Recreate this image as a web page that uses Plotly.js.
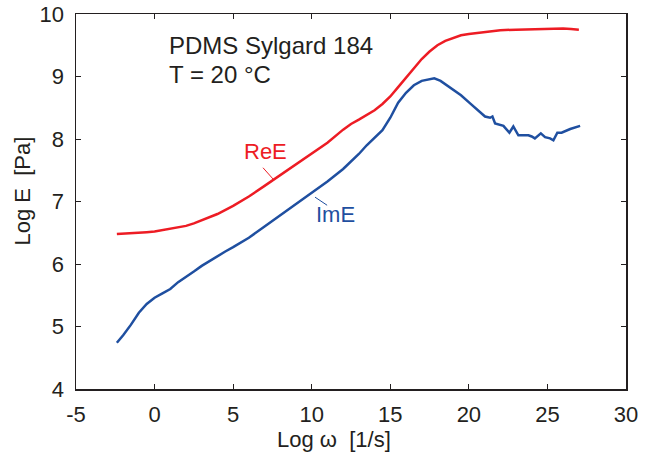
<!DOCTYPE html>
<html><head><meta charset="utf-8">
<script src="https://cdn.plot.ly/plotly-3.0.1.min.js"></script>
<style>html,body{margin:0;padding:0;background:#fff;}#chart{width:646px;height:456px;}</style>
</head><body><div id="chart"></div>
<script>
const reX = [-2.4,-1.5,-0.5,0,0.5,1,1.5,2,2.5,3,4,5,6,7,8,9,10,11,12,12.5,13,13.5,14,14.5,15,15.5,16,16.5,17,17.5,18,18.5,19,19.5,20,21,22,23,24,25,26,26.5,27];
const reY = [6.48,6.49,6.51,6.52,6.54,6.56,6.58,6.61,6.65,6.70,6.80,6.93,7.08,7.25,7.42,7.59,7.76,7.94,8.15,8.24,8.31,8.38,8.46,8.56,8.68,8.83,8.98,9.14,9.28,9.40,9.50,9.57,9.62,9.66,9.68,9.71,9.74,9.75,9.76,9.77,9.77,9.76,9.75];
const imX = [-2.4,-2.0,-1.5,-1.0,-0.5,0,0.5,1,1.5,2,2.5,3,3.5,4,4.5,5,6,7,8,9,10,10.5,11,12,12.6,13,13.5,14,14.5,15,15.5,16,16.5,17,17.5,17.8,18.2,18.6,19,19.5,20.08,20.5,21.03,21.35,21.5,21.67,22.2,22.58,22.83,23.15,23.79,24.0,24.2,24.58,24.85,25.17,25.38,25.63,25.9,26.45,27.08];
const imY = [4.74,4.86,5.03,5.22,5.36,5.46,5.53,5.60,5.71,5.79,5.88,5.97,6.05,6.13,6.20,6.27,6.42,6.60,6.78,6.96,7.14,7.24,7.32,7.52,7.66,7.76,7.90,8.02,8.14,8.34,8.58,8.74,8.86,8.93,8.96,8.97,8.93,8.86,8.78,8.70,8.57,8.48,8.36,8.34,8.36,8.25,8.21,8.10,8.20,8.06,8.06,8.04,8.01,8.09,8.03,8.01,7.98,8.10,8.10,8.16,8.21];
const xTicks = [-5,0,5,10,15,20,25,30];
const yTicks = [4,5,6,7,8,9,10];

const RED = '#ed1c24', BLUE = '#1f4fa0', INK = '#231f20';
const FONT = 'Liberation Sans, Arial, sans-serif';

const traces = [
  {x: reX, y: reY, mode: 'lines', line: {color: RED, width: 2.5}, hoverinfo: 'skip'},
  {x: imX, y: imY, mode: 'lines', line: {color: BLUE, width: 2.5}, hoverinfo: 'skip'}
];
const axisCommon = {
  showgrid: false, zeroline: false, showline: true, linecolor: INK, linewidth: 1.5,
  mirror: 'ticks', ticks: 'inside', ticklen: 5, tickwidth: 1, tickcolor: INK,
  tickfont: {family: FONT, size: 22, color: INK}
};
const layout = {
  width: 646, height: 456,
  margin: {l: 76, r: 20, t: 14, b: 67},
  paper_bgcolor: '#fff', plot_bgcolor: '#fff',
  showlegend: false,
  font: {family: FONT, color: INK},
  xaxis: Object.assign({}, axisCommon, {
    range: [-5, 30], tickvals: xTicks, ticktext: xTicks.map(String), ticklabelstandoff: 5
  }),
  yaxis: Object.assign({}, axisCommon, {
    range: [4, 10], tickvals: yTicks, ticktext: yTicks.map(String), ticklabelstandoff: 6
  }),
  shapes: [
    {type: 'line', xref: 'x', yref: 'y', x0: 6.90, y0: 7.54, x1: 7.54, y1: 7.36, line: {color: RED, width: 1}},
    {type: 'line', xref: 'x', yref: 'y', x0: 10.21, y0: 7.07, x1: 10.98, y1: 6.94, line: {color: BLUE, width: 1}}
  ],
  annotations: [
    {x: 0.8, y: 9.50, xref: 'x', yref: 'y', xanchor: 'left', yanchor: 'middle',
     text: 'PDMS Sylgard 184', showarrow: false, font: {family: FONT, size: 24, color: INK}},
    {x: 0.8, y: 9.03, xref: 'x', yref: 'y', xanchor: 'left', yanchor: 'middle',
     text: 'T = 20 °C', showarrow: false, font: {family: FONT, size: 24, color: INK}},
    {x: 7.09, y: 7.80, xref: 'x', yref: 'y', text: 'ReE', showarrow: false, font: {family: FONT, size: 22, color: RED}},
    {x: 11.49, y: 6.80, xref: 'x', yref: 'y', text: 'ImE', showarrow: false, font: {family: FONT, size: 22, color: BLUE}},
    {x: 0.469, y: -0.135, xref: 'paper', yref: 'paper', xanchor: 'center', yanchor: 'middle',
     text: 'Log ω  [1/s]', showarrow: false, font: {family: FONT, size: 22, color: INK}},
    {x: -0.098, y: 0.527, xref: 'paper', yref: 'paper', xanchor: 'center', yanchor: 'middle', textangle: -90,
     text: 'Log E  [Pa]', showarrow: false, font: {family: FONT, size: 22, color: INK}}
  ]
};
Plotly.newPlot('chart', traces, layout, {staticPlot: true, displayModeBar: false});
</script></body></html>
